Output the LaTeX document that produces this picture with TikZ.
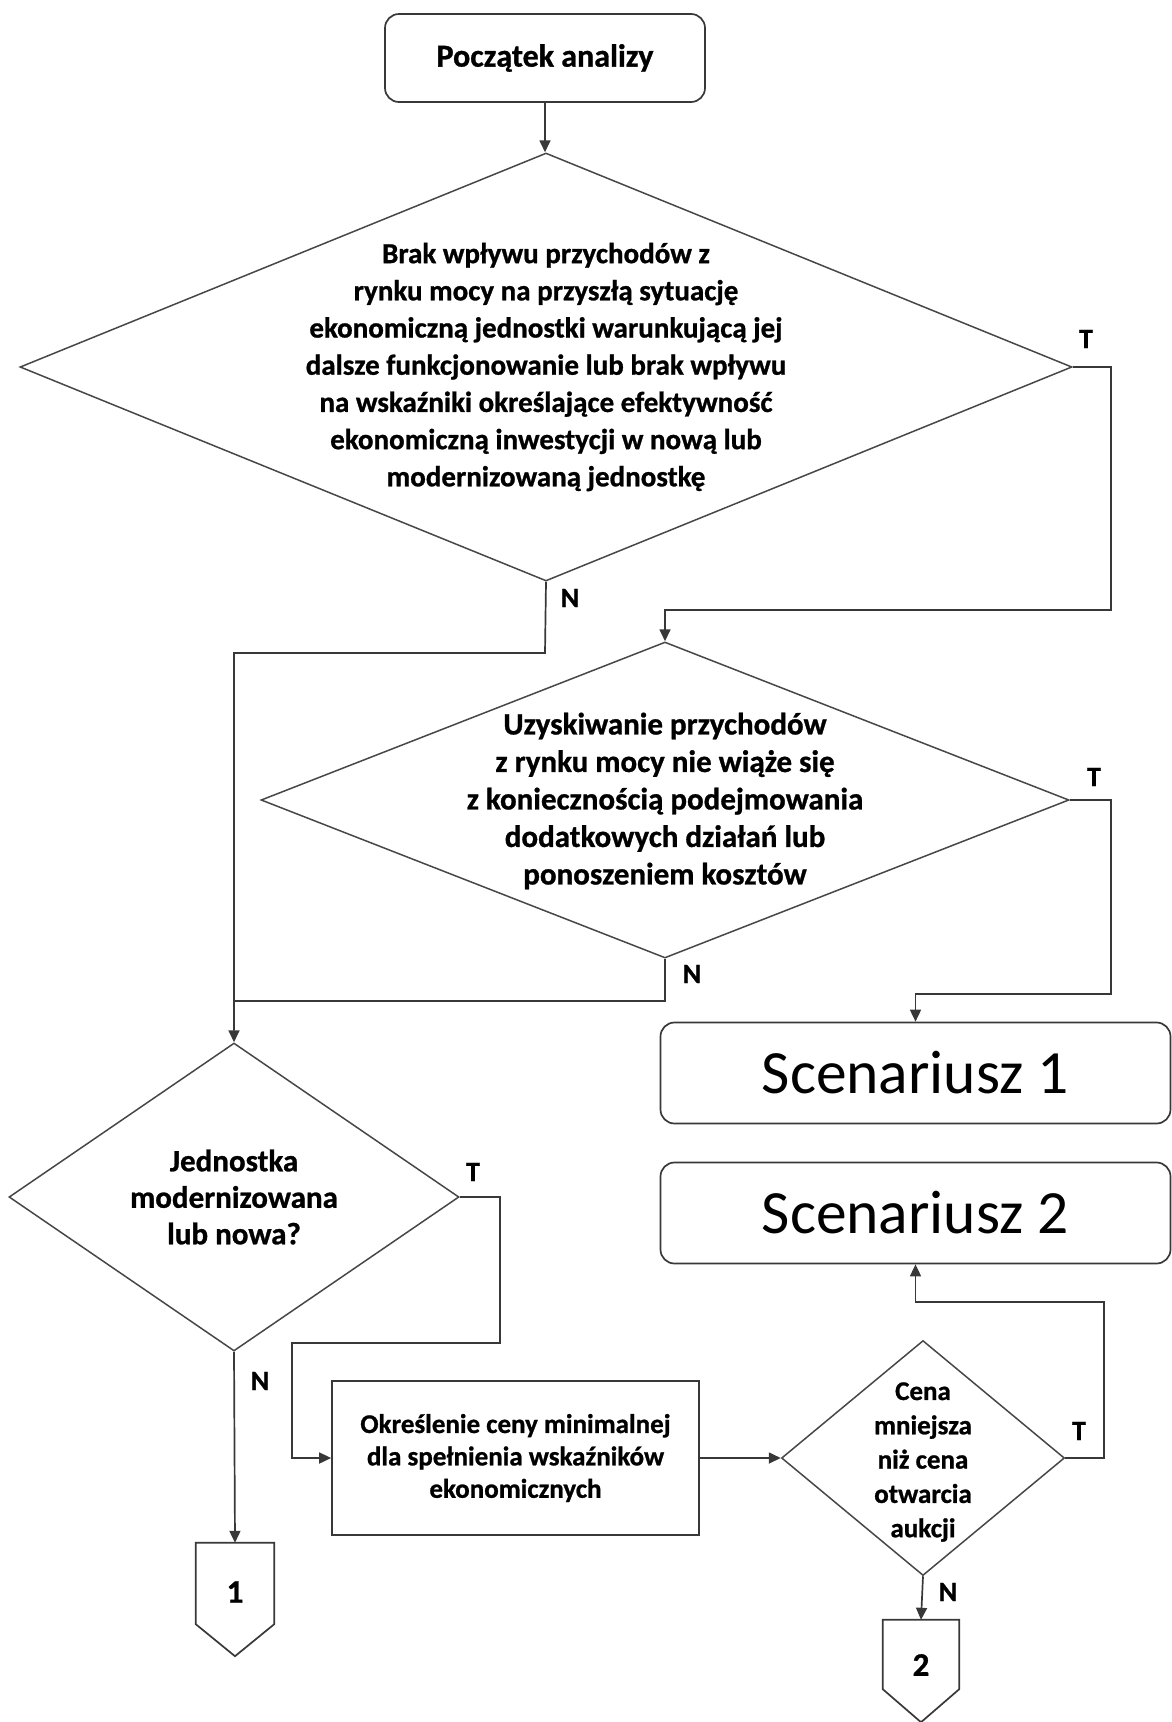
\documentclass[tikz,border=0pt]{standalone}
\usepackage{fontspec}
\setmainfont{Carlito}[BoldFeatures={FakeBold=0.9}]
\usetikzlibrary{shapes.geometric,arrows.meta,calc}
\begin{document}
\begin{tikzpicture}[x=1pt,y=-1pt,
  line/.style={draw=black!78, line width=1.7pt},
  arr/.style={line, -{Triangle[length=12pt,width=11pt]}},
  dia/.style={diamond, draw=black!72, line width=1.5pt, inner sep=0pt},
  rbox/.style={draw=black!78, line width=1.7pt, rounded corners=14pt, inner sep=0pt},
  sbox/.style={draw=black!78, line width=1.7pt, inner sep=0pt},
  dtxt/.style={align=center, inner sep=0pt},
  lbl/.style={font=\fontsize{28}{30}\selectfont\bfseries, inner sep=0pt},
  conn/.style={inner sep=0pt},
]
\useasboundingbox (0,0) rectangle (1172,1722);

% start
\node[rbox, minimum width=320, minimum height=88, font=\fontsize{32}{38}\selectfont\bfseries] (start) at (545,58) {Początek analizy};

% diamond 1
\node[dia, minimum width=1052, minimum height=428] (d1) at (546,367) {};
\node[dtxt, font=\fontsize{29}{37.2}\selectfont\bfseries] (d1t) at (546,367) {Brak wpływu przychodów z\\rynku mocy na przyszłą sytuację\\ekonomiczną jednostki warunkującą jej\\dalsze funkcjonowanie lub brak wpływu\\na wskaźniki określające efektywność\\ekonomiczną inwestycji w nową lub\\modernizowaną jednostkę};

% diamond 2
\node[dia, minimum width=808, minimum height=316] (d2) at (665,800) {};
\node[dtxt, font=\fontsize{31}{37.5}\selectfont\bfseries] (d2t) at (665,801) {Uzyskiwanie przychodów\\z rynku mocy nie wiąże się\\z koniecznością podejmowania\\dodatkowych działań lub\\ponoszeniem kosztów};

% scenario boxes
\node[rbox, minimum width=510, minimum height=101, font=\fontsize{61.5}{70}\selectfont] (s1) at (915.5,1073) {Scenariusz 1};
\node[rbox, minimum width=510, minimum height=101, font=\fontsize{61.5}{70}\selectfont] (s2) at (915.5,1213) {Scenariusz 2};

% diamond 3
\node[dia, minimum width=450, minimum height=308] (d3) at (234,1197) {};
\node[dtxt, font=\fontsize{31}{36.5}\selectfont\bfseries] (d3t) at (234,1197) {Jednostka\\modernizowana\\lub nowa?};

% rectangle
\node[sbox, minimum width=367, minimum height=154, align=center, font=\fontsize{27}{32.4}\selectfont\bfseries] (r1) at (515.5,1458) {Określenie ceny minimalnej\\dla spełnienia wskaźników\\ekonomicznych};

% diamond 4
\node[dia, minimum width=283, minimum height=235] (d4) at (923,1458) {};
\node[dtxt, font=\fontsize{27}{34.3}\selectfont\bfseries] (d4t) at (923,1462) {Cena\\mniejsza\\niż cena\\otwarcia\\aukcji};

% off-page connectors
\node[conn, minimum width=78, minimum height=81] (c1) at (235,1583.5) {};
\draw[line] (c1.north west) -- (c1.north east) -- (c1.south east) -- ($(c1.south)+(0,32)$) -- (c1.south west) -- cycle;
\node[lbl, font=\fontsize{33}{35}\selectfont\bfseries] (c1t) at (235,1592) {1};

\node[conn, minimum width=76, minimum height=69] (c2) at (921,1654.5) {};
\draw[line] (c2.north west) -- (c2.north east) -- (c2.south east) -- ($(c2.south)+(0,33)$) -- (c2.south west) -- cycle;
\node[lbl, font=\fontsize{33}{35}\selectfont\bfseries] (c2t) at (921,1665) {2};

% helper coordinates
\coordinate (t1a) at (1111,610);
\coordinate (n1a) at (545,653);
\coordinate (t2a) at (1111,994);
\coordinate (n2a) at (235,1001);
\coordinate (n2b) at (665,1001);
\coordinate (t3a) at (500,1343);
\coordinate (t3b) at (292,1458);
\coordinate (t4a) at (1104,1302);

% connectors
\draw[arr] (start.south) -- (start.south |- d1.north);
\draw[arr] (d1.east) -| (t1a) -| (d2.north);
\draw[arr] (d1.south) -- (n1a) -| (d3.north);
\draw[arr] (d2.east) -| (t2a) -| (s1.north);
\draw[line] (d2.south) -- (n2b) -- (n2a);
\draw[arr] (d3.east) -| (t3a) -| (t3b) -- (r1.west);
\draw[arr] (d3.south) -- (c1.north);
\draw[arr] (r1.east) -- (d4.west);
\draw[arr] (d4.east) -| (t4a) -| (s2.south);
\draw[arr] (d4.south) -- (c2.north);

% labels
\node[lbl] (lt1) at (1086,339) {T};
\node[lbl] (ln1) at (570,598) {N};
\node[lbl] (lt2) at (1094,777) {T};
\node[lbl] (ln2) at (692,974) {N};
\node[lbl] (lt3) at (473,1172) {T};
\node[lbl] (ln3) at (260,1381) {N};
\node[lbl] (lt4) at (1079,1431) {T};
\node[lbl] (ln4) at (948,1592) {N};
\end{tikzpicture}
\end{document}
